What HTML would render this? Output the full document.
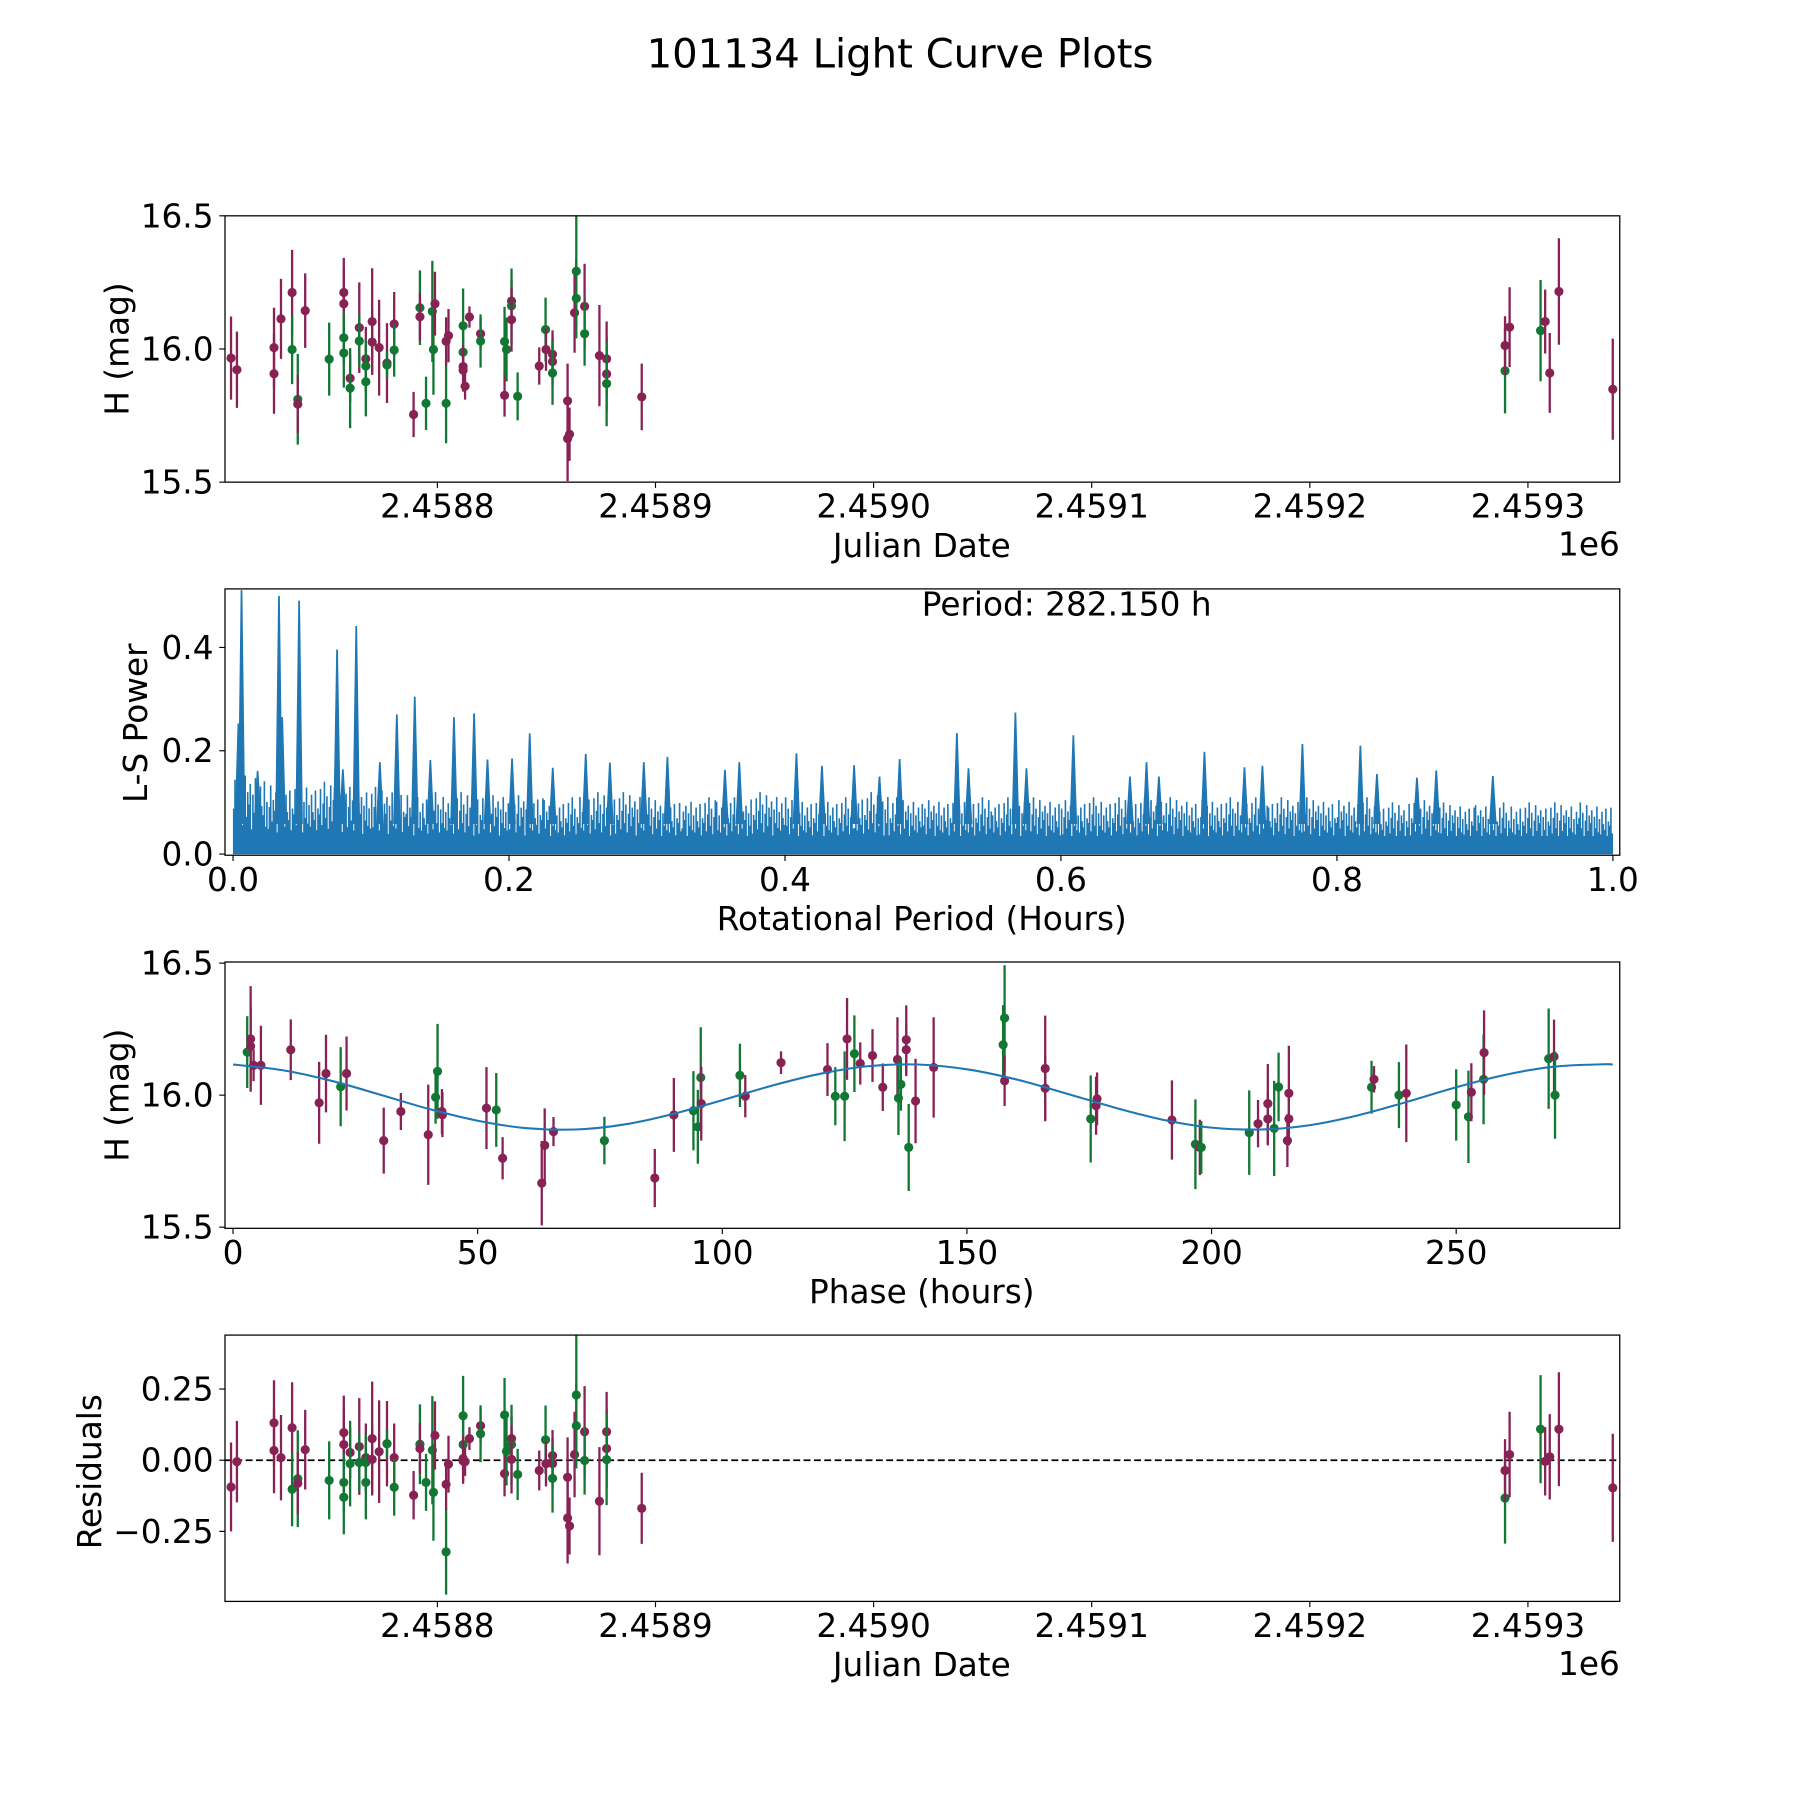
<!DOCTYPE html>
<html><head><meta charset="utf-8"><title>101134 Light Curve Plots</title>
<style>html,body{margin:0;padding:0;background:#fff;}svg{display:block;font-family:"DejaVu Sans","Liberation Sans",sans-serif;}</style>
</head><body>
<svg id="fig" width="1800" height="1800" viewBox="0 0 1568 1568" xmlns="http://www.w3.org/2000/svg">
<rect x="0" y="0" width="1568" height="1568" fill="#fff"/>
<text x="784" y="59" text-anchor="middle" font-size="35" fill="#000">101134 Light Curve Plots</text>
<defs>
<clipPath id="c1"><rect x="196" y="188" width="1215" height="232"/></clipPath>
<clipPath id="c2"><rect x="196" y="513" width="1215" height="232"/></clipPath>
<clipPath id="c3"><rect x="196" y="838" width="1215" height="232"/></clipPath>
<clipPath id="c4"><rect x="196" y="1163" width="1215" height="232"/></clipPath>
</defs>
<g id="g1"></g>
<g id="g2"></g>
<g id="g3"></g>
<g id="g4"></g>
</svg>
<script>
// ---- light curve data (day offset from JD 2458700) ----
const jdDay = [5.4,8.1,25.1,25.1,28.3,33.4,33.4,36.0,36.0,39.4,50.4,57.1,57.1,57.1,57.1,60.0,60.0,64.2,64.2,67.2,67.2,67.2,70.1,70.1,73.3,76.9,76.9,80.2,80.2,89.1,94.8,92.0,92.0,97.7,98.2,98.9,104.0,104.0,105.1,111.8,111.8,111.8,111.8,112.7,114.7,119.8,119.8,130.8,130.8,131.7,134.0,134.0,134.0,136.8,146.7,149.6,149.8,152.8,152.8,152.8,159.7,159.7,160.6,162.9,163.7,163.7,167.5,167.5,174.3,177.6,177.6,177.6,193.7,589.5,589.5,591.6,605.8,607.9,610.0,614.2,638.9];
const magH = [15.966,15.922,16.005,15.907,16.113,16.212,15.998,15.811,15.793,16.144,15.962,16.212,16.17,16.042,15.985,15.89,15.853,16.08,16.03,15.963,15.936,15.877,16.103,16.026,16.005,15.947,15.94,16.094,15.996,15.754,15.796,16.155,16.121,16.141,15.998,16.17,15.796,16.029,16.05,16.087,15.988,15.934,15.92,15.86,16.12,16.057,16.03,15.826,16.028,15.998,16.18,16.162,16.11,15.822,15.936,16.073,15.998,15.98,15.953,15.91,15.805,15.664,15.68,16.136,16.292,16.19,16.16,16.057,15.975,15.963,15.906,15.87,15.82,15.918,16.013,16.082,16.069,16.103,15.91,16.216,15.849];
const magErr = [.156,.143,.15,.15,.15,.16,.13,.17,.11,.14,.137,.13,.13,.10,.13,.09,.15,.17,.10,.12,.10,.13,.2,.12,.18,.15,.05,.12,.10,.085,.10,.14,.09,.19,.17,.12,.15,.09,.10,.14,.10,.08,.08,.05,.04,.06,.10,.08,.13,.12,.08,.14,.12,.09,.07,.12,.08,.09,.09,.12,.14,.16,.10,.15,.21,.15,.16,.12,.19,.14,.14,.16,.125,.16,.11,.15,.19,.12,.15,.2,.19];
const band = [0,0,0,0,0,0,1,1,0,0,1,0,0,1,1,0,1,0,1,0,1,1,0,0,0,0,1,0,1,0,1,1,0,1,1,0,1,0,0,1,1,0,0,0,0,0,1,0,1,1,0,1,0,1,0,1,0,0,0,1,0,0,0,0,1,1,0,1,0,0,0,1,0,1,0,0,1,0,0,0,0];
const resid = [-.094,-.005,.131,.034,.009,.114,-.102,-.065,-.081,.037,-.071,.097,.055,-.078,-.13,.027,-.012,.048,-.008,.009,-.008,-.078,.076,.003,.03,.058,.058,.009,-.095,-.123,-.078,.056,.041,.035,-.113,.087,-.322,-.085,-.014,.156,.055,.006,-.003,-.005,.076,.121,.093,-.047,.159,.031,.076,.055,.003,-.05,-.036,.072,-.012,.016,-.012,-.064,-.06,-.203,-.231,.02,.229,.121,.1,-.001,-.144,.1,.041,.002,-.169,-.133,-.036,.02,.109,-.004,.012,.109,-.097];
const jdTicks = [100,200,300,400,500,600];
const jdTickLabels = ["2.4588","2.4589","2.4590","2.4591","2.4592","2.4593"];
const magTicks = [16.5,16.0,15.5];
const magTickLabels = ["16.5","16.0","15.5"];
// ---- phase-folded data ----
const phaseH = [2.9,3.6,3.6,4.2,5.7,11.8,17.6,19.0,22.0,23.2,30.8,34.3,39.9,41.4,41.8,42.7,42.8,51.8,53.8,55.1,63.1,63.7,65.5,75.9,86.2,90.1,94.1,95.0,95.6,95.7,103.6,104.7,112.0,121.5,123.1,125.0,125.5,127.0,128.2,130.7,132.8,135.8,136.0,136.5,137.6,137.6,138.1,139.5,143.2,157.4,157.7,157.7,166.0,166.0,175.3,176.4,176.6,191.9,196.7,197.6,197.9,207.7,209.5,211.5,211.5,212.8,213.7,215.5,215.8,215.8,232.7,233.2,238.3,239.8,250.0,252.5,253.1,255.6,255.7,268.9,270.0,270.2];
const phaseMag = [16.163,16.213,16.185,16.113,16.113,16.172,15.971,16.082,16.032,16.082,15.828,15.938,15.85,15.992,16.09,15.938,15.926,15.951,15.944,15.761,15.667,15.81,15.862,15.828,15.686,15.925,15.941,15.88,16.067,15.968,16.075,15.996,16.123,16.097,15.996,15.996,16.213,16.157,16.12,16.15,16.03,16.135,15.989,16.041,16.21,16.172,15.802,15.978,16.105,16.191,16.292,16.054,16.101,16.026,15.91,15.96,15.986,15.906,15.814,15.802,15.802,15.858,15.892,15.968,15.91,15.874,16.031,15.828,16.007,15.91,16.03,16.06,16.0,16.007,15.963,15.918,16.011,16.06,16.161,16.138,16.146,16.0];
const phaseErr = [.136,.2,.15,.06,.15,.115,.155,.147,.15,.14,.125,.07,.19,.1,.18,.085,.085,.155,.14,.08,.16,.14,.055,.09,.11,.14,.15,.14,.19,.14,.12,.08,.043,.1,.11,.17,.155,.145,.08,.1,.09,.16,.14,.1,.13,.1,.165,.16,.19,.15,.2,.095,.2,.12,.165,.11,.1,.15,.17,.105,.1,.16,.09,.15,.1,.18,.13,.1,.18,.1,.1,.05,.125,.185,.135,.175,.11,.17,.16,.19,.14,.165];
const phaseBand = [1,0,0,0,0,0,0,0,1,0,0,0,0,1,1,0,0,0,1,0,0,0,0,1,0,0,1,1,1,0,1,0,0,0,1,1,0,1,0,0,0,0,1,1,0,0,1,0,0,1,1,0,0,0,1,0,0,0,1,0,1,1,0,0,0,1,1,0,0,0,1,0,1,0,1,1,0,1,0,1,0,1];
const fitPhase = [0,10,20,30,40,50,60,70,80,90,100,110,120,130,140,150,160,170,180,190,200,210,220,230,240,250,260,270,280,282];
const fitMag = [16.116,16.095,16.055,16.002,15.948,15.903,15.875,15.870,15.889,15.929,15.981,16.035,16.081,16.110,16.116,16.098,16.060,16.008,15.954,15.907,15.877,15.870,15.886,15.924,15.975,16.030,16.077,16.108,16.117,16.116];
const phaseTicks = [0,50,100,150,200,250];
// ---- periodogram data ----
const peakPeriod = [0.0039,0.00615,0.0178,0.0333,0.0356,0.0476,0.0479,0.075,0.0754,0.0796,0.0893,0.1064,0.1187,0.1317,0.143,0.1601,0.1747,0.1844,0.2022,0.215,0.2317,0.2556,0.2731,0.2977,0.3148,0.3565,0.3669,0.4083,0.4268,0.4501,0.4685,0.4831,0.5246,0.533,0.567,0.575,0.609,0.65,0.662,0.671,0.704,0.733,0.746,0.775,0.817,0.829,0.858,0.872,0.913];
const peakPower = [0.253,0.511,0.161,0.4996,0.265,0.208,0.4906,0.25,0.396,0.164,0.4415,0.178,0.2705,0.3047,0.182,0.265,0.2724,0.183,0.185,0.2337,0.167,0.194,0.177,0.178,0.188,0.163,0.178,0.195,0.171,0.172,0.150,0.184,0.234,0.166,0.274,0.166,0.23,0.15,0.178,0.15,0.198,0.168,0.171,0.213,0.21,0.155,0.148,0.162,0.151];
const noiseLevel = [0.16,0.14,0.14,0.13,0.13,0.12,0.12,0.12,0.12,0.11,0.12,0.12,0.11,0.11,0.11,0.12,0.11,0.11,0.12,0.11,0.11,0.11,0.11,0.11,0.11,0.11,0.11,0.11,0.11,0.11,0.11,0.11,0.11,0.10,0.11,0.10,0.10,0.10,0.10,0.10];
const spikePattern = [0.55,0.9,0.4,0.7,1.0,0.5,0.8,0.35,0.65,0.95,0.45,0.75,0.6,0.85,0.3,0.72,0.5,0.92,0.42,0.68,0.38,0.82,0.58,0.47,0.88,0.33,0.63];
const powerTicks = [0.0,0.2,0.4];
const periodTicks = [0.0,0.2,0.4,0.6,0.8,1.0];
// ---- residual axis ----
const residTicks = [0.25,0.0,-0.25];
const residTickLabels = ["0.25","0.00","\u22120.25"];

const NS = "http://www.w3.org/2000/svg";
const PURPLE = "#882255", GREEN = "#117733", BLUE = "#1f77b4";
const FS = 28.5;
function mk(parent, tag, attrs){ const e=document.createElementNS(NS,tag); for(const k in attrs) e.setAttribute(k,attrs[k]); parent.appendChild(e); return e; }
const xJD = d => 381 + (d-100)*1.9;
const yM1 = m => 304 - (m-16)*232;
const xPer = p => 203 + p*1202;
const yPow = v => 744 - v*450;
const xPh = p => 203 + p*4.262;
const yM3 = m => 954 - (m-16)*230;
const yRes = r => 1272 - r*248;

function frame(g, top, name){
  const r = mk(g,'rect',{x:196,y:top,width:1215,height:232,fill:'none',stroke:'#000','stroke-width':1.1});
  
  
}
function xTick(g, x, bottom, label, name){
  const l = mk(g,'line',{x1:x,x2:x,y1:bottom,y2:bottom+5,stroke:'#000','stroke-width':1});
  
  
  const t = mk(g,'text',{x:x,y:bottom+31,'text-anchor':'middle','font-size':FS,fill:'#000'});
  t.textContent = label;
  
  
}
function yTick(g, y, label, name){
  const l = mk(g,'line',{x1:191,x2:196,y1:y,y2:y,stroke:'#000','stroke-width':1});
  
  
  const t = mk(g,'text',{x:186,y:y+10,'text-anchor':'end','font-size':FS,fill:'#000'});
  t.textContent = label;
  
  
}
function label(g, x, y, txt, rot, name){
  const t = mk(g,'text',{x:x,y:y,'text-anchor':'middle','font-size':FS,fill:'#000'});
  if(rot) t.setAttribute('transform','rotate(-90 '+x+' '+y+')');
  t.textContent = txt;
  
  
}
function errPoint(g, cx, cy, ylo, yhi, color, name){
  const l = mk(g,'line',{x1:cx,x2:cx,y1:ylo,y2:yhi,stroke:color,'stroke-width':2});
  
  
  const c = mk(g,'circle',{cx:cx,cy:cy,r:4,fill:color});
  
  
}

// ---- Panel 1 ----
const g1 = document.getElementById('g1');
const d1 = mk(g1,'g',{'clip-path':'url(#c1)'});
for(let i=0;i<jdDay.length;i++){
  const x=xJD(jdDay[i]);
  errPoint(d1, x, yM1(magH[i]), yM1(magH[i]-magErr[i]), yM1(magH[i]+magErr[i]), band[i]?GREEN:PURPLE, 'magnitude-point');
}
frame(g1,188,'light-curve');
jdTicks.forEach((d,i)=>xTick(g1,xJD(d),420,jdTickLabels[i],'light-curve'));
magTicks.forEach((m,i)=>yTick(g1,yM1(m),magTickLabels[i],'light-curve'));
label(g1,803,485,'Julian Date',false,'x-axis-title');
label(g1,112,304,'H (mag)',true,'y-axis-title');
{const t=mk(g1,'text',{x:1411,y:484,'text-anchor':'end','font-size':FS,fill:'#000'});t.textContent='1e6';

}

// ---- Panel 2 ----
const g2 = document.getElementById('g2');
const d2 = mk(g2,'g',{'clip-path':'url(#c2)'});
{const f=mk(d2,'rect',{x:xPer(0),y:yPow(0.035),width:xPer(1)-xPer(0),height:yPow(0)-yPow(0.035),fill:BLUE});

}
const binW = 1/noiseLevel.length;
let sp = '';
for(let b=0;b<noiseLevel.length;b++){
  for(let k=0;k<spikePattern.length;k++){
    const p = b*binW + (k+0.5)*binW/spikePattern.length;
    const v = noiseLevel[b]*spikePattern[(k+b*7)%spikePattern.length];
    sp += 'M'+xPer(p).toFixed(1)+' '+yPow(0)+'V'+yPow(v).toFixed(1);
  }
}
{const s=mk(d2,'path',{d:sp,stroke:BLUE,'stroke-width':1.4,fill:'none'});

}
for(let i=0;i<peakPeriod.length;i++){
  const x=xPer(peakPeriod[i]);
  const pk=mk(d2,'path',{d:'M'+(x-2.5)+' '+yPow(0.06)+'L'+x+' '+yPow(peakPower[i])+'L'+(x+2.5)+' '+yPow(0.06)+'Z',fill:BLUE,stroke:BLUE,'stroke-width':1.5});
  
  
}
frame(g2,513,'periodogram');
periodTicks.forEach(p=>xTick(g2,xPer(p),745,p.toFixed(1),'periodogram'));
powerTicks.forEach(v=>yTick(g2,yPow(v),v.toFixed(1),'periodogram'));
label(g2,803,810,'Rotational Period (Hours)',false,'x-axis-title');
label(g2,128,630,'L-S Power',true,'y-axis-title');
{const t=mk(g2,'text',{x:803,y:536,'font-size':FS,fill:'#000'});t.textContent='Period: 282.150 h';

}

// ---- Panel 3 ----
const g3 = document.getElementById('g3');
const d3 = mk(g3,'g',{'clip-path':'url(#c3)'});
for(let i=0;i<phaseH.length;i++){
  const x=xPh(phaseH[i]);
  errPoint(d3, x, yM3(phaseMag[i]), yM3(phaseMag[i]-phaseErr[i]), yM3(phaseMag[i]+phaseErr[i]), phaseBand[i]?GREEN:PURPLE, 'phase-point');
}
{
  const P = fitPhase.map((p,i)=>[xPh(p), yM3(fitMag[i])]);
  let d='M'+P[0][0]+' '+P[0][1];
  for(let i=0;i<P.length-1;i++){
    const p0=P[Math.max(0,i-1)],p1=P[i],p2=P[i+1],p3=P[Math.min(P.length-1,i+2)];
    const c1=[p1[0]+(p2[0]-p0[0])/6,p1[1]+(p2[1]-p0[1])/6];
    const c2=[p2[0]-(p3[0]-p1[0])/6,p2[1]-(p3[1]-p1[1])/6];
    d+='C'+c1[0].toFixed(1)+' '+c1[1].toFixed(1)+' '+c2[0].toFixed(1)+' '+c2[1].toFixed(1)+' '+p2[0].toFixed(1)+' '+p2[1].toFixed(1);
  }
  const c=mk(d3,'path',{d:d,fill:'none',stroke:BLUE,'stroke-width':1.8});
  
  
}
frame(g3,838,'phase');
phaseTicks.forEach(p=>xTick(g3,xPh(p),1070,String(p),'phase'));
magTicks.forEach((m,i)=>yTick(g3,yM3(m),magTickLabels[i],'phase'));
label(g3,803,1135,'Phase (hours)',false,'x-axis-title');
label(g3,112,954,'H (mag)',true,'y-axis-title');

// ---- Panel 4 ----
const g4 = document.getElementById('g4');
const d4 = mk(g4,'g',{'clip-path':'url(#c4)'});
{const z=mk(d4,'line',{x1:196,x2:1411,y1:yRes(0),y2:yRes(0),stroke:'#000','stroke-width':1.5,'stroke-dasharray':'6,3'});

}
for(let i=0;i<jdDay.length;i++){
  const x=xJD(jdDay[i]);
  errPoint(d4, x, yRes(resid[i]), yRes(resid[i]-magErr[i]), yRes(resid[i]+magErr[i]), band[i]?GREEN:PURPLE, 'residual-point');
}
frame(g4,1163,'residuals');
jdTicks.forEach((d,i)=>xTick(g4,xJD(d),1395,jdTickLabels[i],'residuals'));
residTicks.forEach((r,i)=>yTick(g4,yRes(r),residTickLabels[i],'residuals'));
label(g4,803,1460,'Julian Date',false,'x-axis-title');
label(g4,88,1282,'Residuals',true,'y-axis-title');
{const t=mk(g4,'text',{x:1411,y:1459,'text-anchor':'end','font-size':FS,fill:'#000'});t.textContent='1e6';

}
</script>
</body></html>
